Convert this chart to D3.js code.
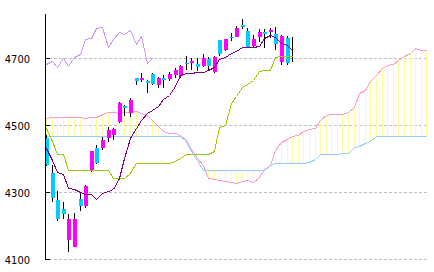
<!DOCTYPE html>
<html>
<head>
<meta charset="utf-8">
<script src="https://cdn.jsdelivr.net/npm/d3@7"></script>
<style>
  body { margin: 0; background: #ffffff; }
</style>
</head>
<body>
<div id="chart"></div>
<script>
// candles (one per bar)
const opens  = [4460,4355,4275,4248,4155,4135,4278,4257,4364,4431,4429,4461,4469,4507,4554,4533,4640,4633,4630,4651,4618,4638,4636,4648,4646,4685,4683,4680,4675,4696,4656,4752,4724,4762,4762,4797,4780,4735,4762,4775,4777,4770,4688,4757,4700];
const highs  = [4470,4380,4303,4270,4233,4235,4299,4318,4421,4439,4464,4492,4490,4568,4557,4578,4640,4653,4633,4654,4643,4648,4656,4669,4678,4705,4699,4699,4710,4702,4705,4753,4756,4774,4793,4814,4789,4767,4785,4785,4789,4792,4767,4765,4762];
const lows   = [4375,4270,4212,4218,4120,4133,4242,4251,4359,4381,4424,4449,4454,4504,4525,4523,4618,4628,4595,4618,4608,4608,4630,4639,4640,4663,4663,4660,4672,4660,4655,4705,4719,4750,4762,4784,4728,4727,4747,4729,4757,4722,4678,4678,4686];
const closes = [4380,4280,4217,4232,4217,4217,4258,4316,4421,4386,4454,4484,4487,4563,4548,4572,4631,4640,4623,4621,4640,4633,4650,4663,4675,4680,4689,4673,4700,4675,4701,4712,4754,4759,4787,4791,4730,4755,4775,4770,4782,4740,4765,4685,4700];

// conversion line and base line
const tenkan = [4429,4394,4358,4352,4309,4307,4299,4294,4293,4278,4296,4302,4307,4340,4400,4459,4489,4513,4533,4543,4555,4576,4588,4615,4648,4653,4655,4657,4658,4662,4672,4696,4702,4713,4721,4730,4730,4730,4734,4757,4767,4760,4743,4736,4722];
const kijun  = [4490,4451,4412,4412,4364,4364,4364,4364,4364,4364,4364,4364,4341,4341,4341,4354,4384,4384,4384,4384,4384,4384,4384,4391,4399,4411,4413,4413,4413,4413,4421,4493,4499,4564,4585,4612,4621,4633,4660,4663,4664,4701,4706,4706,4706];

// leading spans (already shifted forward)
const spanA = [4519,4523,4523,4523,4523,4523,4523,4518,4521,4523,4531,4538,4537,4535,4536,4538,4539,4535,4528,4515,4496,4481,4476,4474,4469,4455,4427,4400,4379,4340,4336,4333,4330,4327,4325,4331,4333,4327,4343,4366,4378,4424,4448,4457,4466,4469,4482,4488,4490,4513,4528,4530,4530,4532,4537,4552,4594,4603,4630,4649,4670,4679,4682,4693,4705,4715,4728,4724,4722];
const spanB = [4466,4466,4466,4466,4466,4466,4466,4466,4466,4466,4466,4466,4466,4466,4466,4466,4466,4466,4466,4466,4466,4466,4466,4466,4466,4451,4421,4394,4364,4364,4364,4364,4364,4364,4364,4364,4364,4364,4364,4364,4379,4384,4384,4384,4384,4384,4384,4389,4396,4411,4411,4411,4411,4414,4414,4434,4436,4446,4452,4466,4466,4466,4466,4466,4466,4466,4466,4466,4466];

const lagShift = 25;
const lagging = closes.slice(lagShift);   // close plotted 25 bars back

const yTicks = [4100, 4300, 4500, 4700];

const width = 434, height = 272;

const svg = d3.select("#chart")
    .append("svg")
    .attr("width", width)
    .attr("height", height)
    .style("display", "block");

svg.append("rect").attr("width", width).attr("height", height).attr("fill", "#ffffff");

// scales
const x = d3.scaleLinear().domain([0, spanA.length - 1]).range([46, 426.4]);
const y = d3.scaleLinear().domain([4100, 4830]).range([258.5, 14]);
const px = i => Math.round(x(i));

svg.append("clipPath").attr("id", "plot")
    .append("rect").attr("x", 45).attr("y", 0).attr("width", width - 45).attr("height", height);

// grid lines
svg.append("g")
    .selectAll("line")
    .data(yTicks)
    .join("line")
    .attr("x1", 49).attr("x2", 428)
    .attr("y1", d => Math.round(y(d)) + 0.5)
    .attr("y2", d => Math.round(y(d)) + 0.5)
    .attr("stroke", "#c0c0c0")
    .attr("stroke-dasharray", "3,2")
    .attr("shape-rendering", "crispEdges");

const plot = svg.append("g").attr("clip-path", "url(#plot)");

// cloud hatch
plot.append("g")
    .selectAll("line")
    .data(spanA.map((a, i) => ({ i: i, a: a, b: spanB[i] })))
    .join("line")
    .attr("x1", d => px(d.i) + 0.5).attr("x2", d => px(d.i) + 0.5)
    .attr("y1", d => y(d.a)).attr("y2", d => y(d.b))
    .attr("stroke", "#ffff99")
    .attr("shape-rendering", "crispEdges");

const line = d3.line().x((d, i) => px(i) + 0.5).y(d => Math.round(y(d)) + 0.5);

function drawLine(values, color) {
    plot.append("path")
        .datum(values)
        .attr("d", line)
        .attr("fill", "none")
        .attr("stroke", color)
        .attr("stroke-width", 1)
        .attr("shape-rendering", "crispEdges");
}

drawLine(spanA, "#ff99cc");
drawLine(spanB, "#99ccff");
drawLine(lagging, "#cc99ff");

// candles
const bars = plot.append("g")
    .selectAll("g")
    .data(opens.map((o, i) => ({ i: i, o: o, h: highs[i], l: lows[i], c: closes[i] })))
    .join("g");

bars.append("line")
    .attr("x1", d => px(d.i) + 0.5).attr("x2", d => px(d.i) + 0.5)
    .attr("y1", d => Math.round(y(d.h))).attr("y2", d => Math.round(y(d.l)))
    .attr("stroke", "#000000")
    .attr("shape-rendering", "crispEdges");

bars.filter(d => d.o !== d.c)
    .append("rect")
    .attr("x", d => px(d.i) - 1.5)
    .attr("width", 4)
    .attr("y", d => Math.round(y(Math.max(d.o, d.c))))
    .attr("height", d => Math.max(1, Math.round(y(Math.min(d.o, d.c))) - Math.round(y(Math.max(d.o, d.c)))))
    .attr("fill", d => d.c > d.o ? "#ff00ff" : "#00ccff")
    .attr("shape-rendering", "crispEdges");

drawLine(kijun, "#99cc00");
drawLine(tenkan, "#800080");

// y axis
svg.append("line")
    .attr("x1", 45.5).attr("x2", 45.5)
    .attr("y1", 14).attr("y2", Math.round(y(4100)) + 1)
    .attr("stroke", "#000000")
    .attr("shape-rendering", "crispEdges");

svg.append("g")
    .selectAll("line")
    .data(yTicks)
    .join("line")
    .attr("x1", 45).attr("x2", 50)
    .attr("y1", d => Math.round(y(d)) + 0.5)
    .attr("y2", d => Math.round(y(d)) + 0.5)
    .attr("stroke", "#000000")
    .attr("shape-rendering", "crispEdges");

svg.append("g")
    .selectAll("text")
    .data(yTicks)
    .join("text")
    .attr("x", 30)
    .attr("y", d => Math.round(y(d)) + 4.5)
    .attr("text-anchor", "end")
    .style("font-family", "'Liberation Sans Narrow', 'DejaVu Sans Condensed', 'Liberation Sans', sans-serif")
    .style("font-size", "11px")
    .attr("fill", "#000000")
    .text(d => d);
</script>
</body>
</html>
